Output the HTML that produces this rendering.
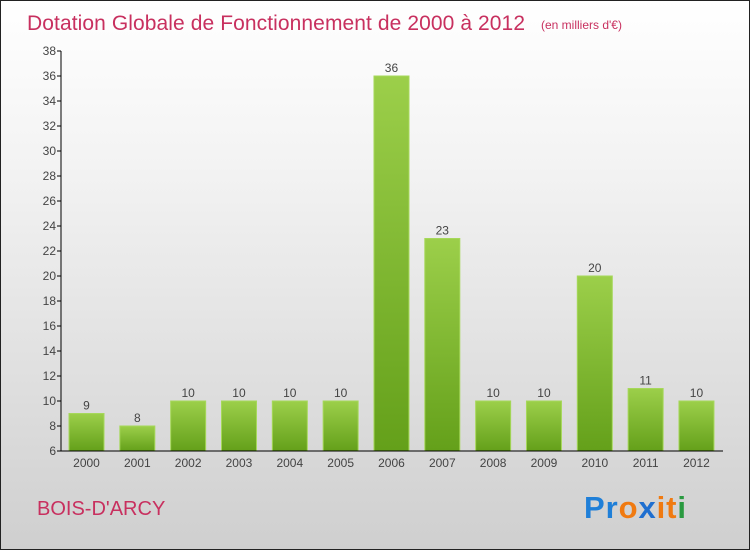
<!DOCTYPE html>
<html><head><meta charset="utf-8"><style>
body{margin:0}
#c{width:750px;height:550px;position:relative;box-sizing:border-box;border:1px solid #222;background:linear-gradient(#ffffff,#f3f3f3 30%,#cfcfcf);font-family:"Liberation Sans",sans-serif;overflow:hidden}
</style></head><body>
<div id="c">
<svg width="750" height="550" style="position:absolute;left:0;top:0">
<defs><linearGradient id="g" x1="0" y1="0" x2="0" y2="1"><stop offset="0" stop-color="#9ccf4a"/><stop offset="1" stop-color="#64a01a"/></linearGradient></defs>
<text x="26" y="29" font-size="21" fill="#c8305f" textLength="498">Dotation Globale de Fonctionnement de 2000 à 2012</text>
<text x="540" y="28" font-size="12" fill="#c8305f">(en milliers d'€)</text>
<g id="plot"></g>
<text x="36" y="514" font-size="20" fill="#c8305f">BOIS-D'ARCY</text>
<g font-size="31" font-weight="bold" font-family="Liberation Sans, sans-serif">
<text x="583" y="517" textLength="102"><tspan fill="#1f7fd8">Pr</tspan><tspan fill="#f07a10">o</tspan><tspan fill="#1f6fd0">x</tspan><tspan fill="#f07a10">i</tspan><tspan fill="#f07a10">t</tspan><tspan fill="#2a9a40">i</tspan></text>
</g>
</svg>
</div>
<script>
const years=["2000","2001","2002","2003","2004","2005","2006","2007","2008","2009","2010","2011","2012"];
const values=[9,8,10,10,10,10,36,23,10,10,20,11,10];
const yTicks=[6,8,10,12,14,16,18,20,22,24,26,28,30,32,34,36,38];
const NS="http://www.w3.org/2000/svg";
const g=document.getElementById('plot');
const y=v=>450-(v-6)*12.5;
const x=i=>85.5+i*50.83;
function mk(t,a,txt){const e=document.createElementNS(NS,t);for(const k in a)e.setAttribute(k,a[k]);if(txt!==undefined)e.textContent=txt;g.appendChild(e);return e;}
values.forEach((v,i)=>{
 const r=mk('rect',{x:x(i)-17.5,y:y(v),width:35,height:450-y(v),fill:'url(#g)',stroke:'#a6d85a','stroke-width':1});
 
 
 const l=mk('text',{x:x(i),y:y(v)-4,'font-size':12,fill:'#444','text-anchor':'middle'},String(v));
 
 
 const t=mk('text',{x:x(i),y:466,'font-size':12,fill:'#444','text-anchor':'middle'},years[i]);
 
 
});
yTicks.forEach(v=>{
 mk('line',{x1:56,x2:60,y1:y(v),y2:y(v),stroke:'#000'});
 const t=mk('text',{x:55,y:y(v)+4,'font-size':12,fill:'#444','text-anchor':'end'},String(v));
 
 
});
const ya=mk('line',{x1:60,x2:60,y1:50,y2:450,stroke:'#000'});


const xa=mk('line',{x1:60,x2:722,y1:450,y2:450,stroke:'#000'});


</script>
</body></html>
